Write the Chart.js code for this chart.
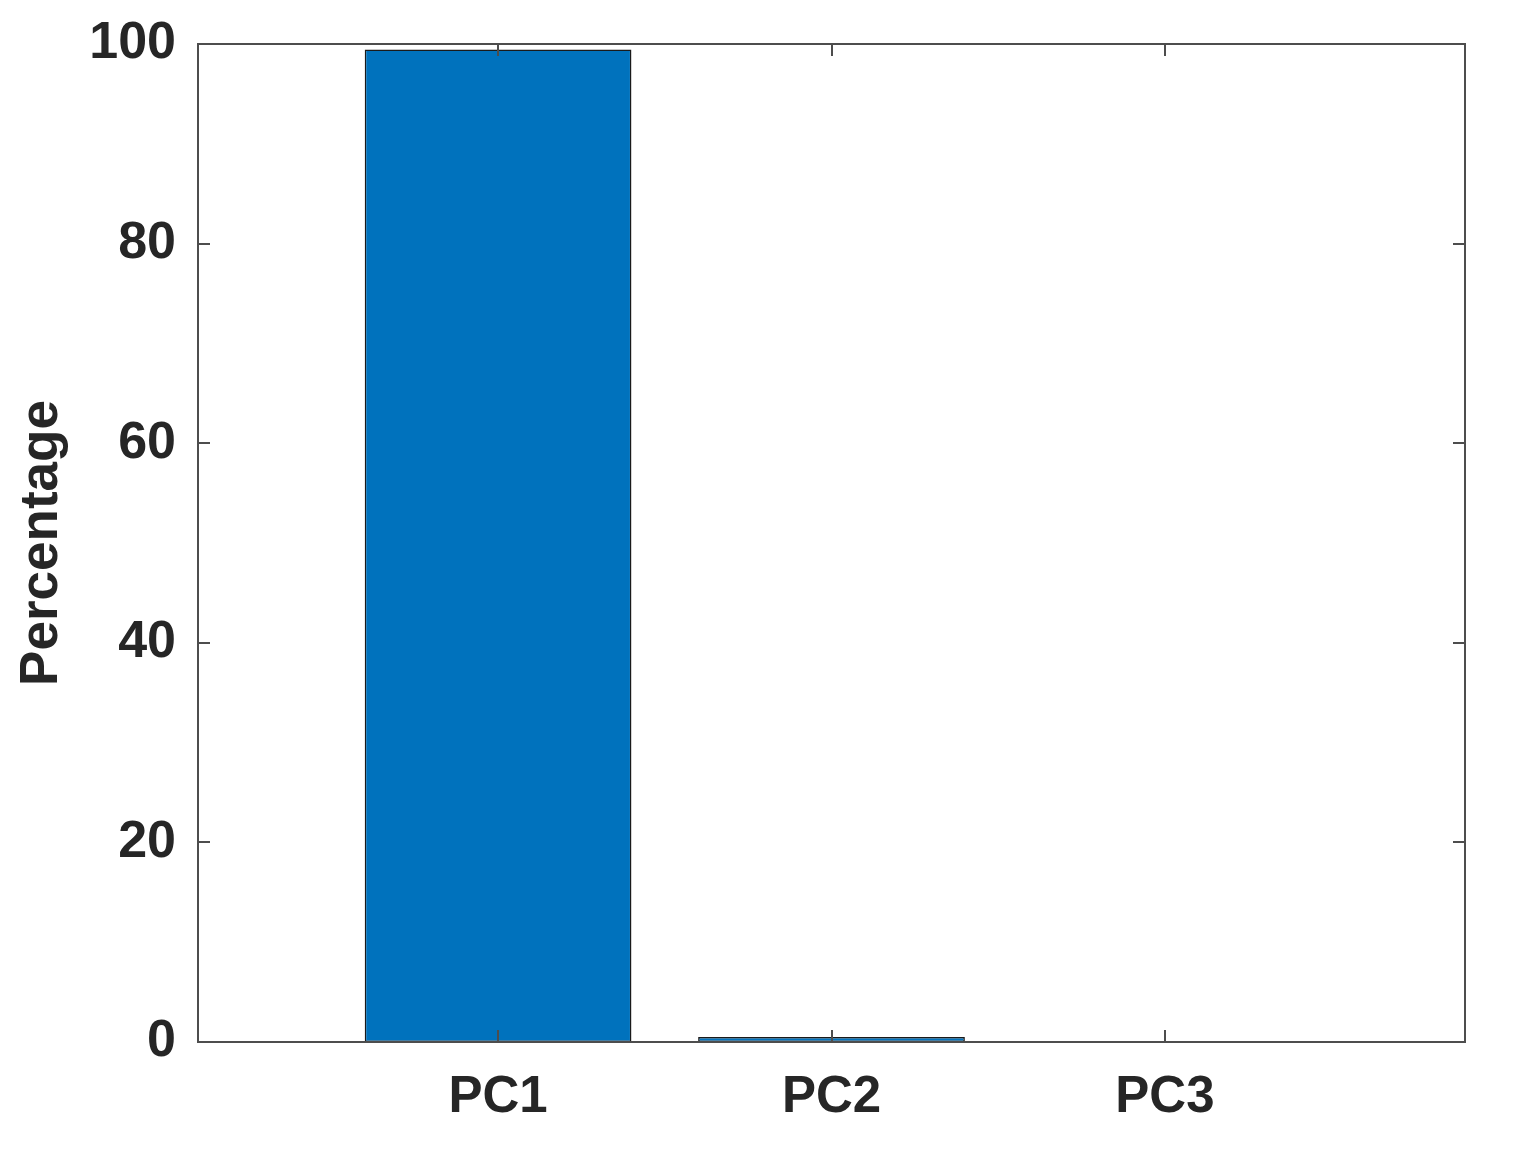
<!DOCTYPE html>
<html>
<head>
<meta charset="utf-8">
<title>Percentage by component</title>
<script src="https://cdn.jsdelivr.net/npm/chart.js@4.4.1/dist/chart.umd.min.js"></script>
<style>
  html, body { margin: 0; padding: 0; background: #ffffff; }
  #chart { display: block; }
</style>
</head>
<body>
<canvas id="chart" width="1519" height="1161"></canvas>
<script>
// data
const categories = ["PC1", "PC2", "PC3"];
const positions = [1, 2, 3];
const percentages = [99.45, 0.5, 0.05];
const yTicks = [0, 20, 40, 60, 80, 100];

const textColor = "#262626";
const axisColor = "#4d4d4d";
const fontFamily = "'Liberation Sans', Arial, Helvetica, sans-serif";

// MATLAB-like box with inward ticks on all four sides
const boxTicks = {
  id: "boxTicks",
  afterDatasetsDraw(chart) {
    const { ctx, chartArea: a, scales } = chart;
    const len = 12;
    ctx.save();
    ctx.strokeStyle = axisColor;
    ctx.lineWidth = 2;
    ctx.beginPath();
    yTicks.forEach(v => {
      const y = Math.round(scales.y.getPixelForValue(v));
      ctx.moveTo(a.left, y); ctx.lineTo(a.left + len, y);
      ctx.moveTo(a.right, y); ctx.lineTo(a.right - len, y);
    });
    positions.forEach(p => {
      const x = Math.round(scales.x.getPixelForValue(p));
      ctx.moveTo(x, a.bottom); ctx.lineTo(x, a.bottom - len);
      ctx.moveTo(x, a.top); ctx.lineTo(x, a.top + len);
    });
    ctx.stroke();
    ctx.strokeRect(a.left, a.top, a.right - a.left, a.bottom - a.top);
    ctx.restore();
  }
};

const points = positions.map((p, i) => ({ x: p, y: percentages[i] }));

new Chart(document.getElementById("chart"), {
  type: "bar",
  data: {
    datasets: [{
      data: points,
      backgroundColor: "#0072BD",
      borderColor: "#1a1a1a",
      borderWidth: 1.5,
      borderSkipped: false,
      barPercentage: 0.8,
      categoryPercentage: 1
    }]
  },
  options: {
    responsive: false,
    animation: false,
    layout: { padding: { left: 0, top: 44, right: 54, bottom: 0 } },
    plugins: {
      legend: { display: false },
      tooltip: { enabled: false }
    },
    scales: {
      x: {
        type: "linear",
        min: 0.1,
        max: 3.9,
        offset: false,
        grid: { display: false, drawTicks: false, offset: false },
        border: { display: false },
        afterBuildTicks(scale) {
          scale.ticks = positions.map(v => ({ value: v }));
        },
        afterFit(scale) {
          scale.height = 1161 - 1042;
          scale.paddingLeft = 0;
          scale.paddingRight = 0;
        },
        ticks: {
          padding: 25,
          color: textColor,
          font: { family: fontFamily, size: 51, weight: "bold" },
          callback(value) {
            const i = positions.indexOf(value);
            return i >= 0 ? categories[i] : "";
          }
        }
      },
      y: {
        min: 0,
        max: 100,
        grid: { display: false, drawTicks: false },
        border: { display: false },
        afterBuildTicks(scale) {
          scale.ticks = yTicks.map(v => ({ value: v }));
        },
        afterFit(scale) {
          scale.width = 198;
          scale.paddingTop = 0;
          scale.paddingBottom = 0;
        },
        ticks: {
          padding: 22,
          color: textColor,
          font: { family: fontFamily, size: 52, weight: "bold" }
        },
        title: {
          display: true,
          text: "Percentage",
          color: textColor,
          padding: { top: 11, bottom: 0 },
          font: { family: fontFamily, size: 53, weight: "bold" }
        }
      }
    }
  },
  plugins: [boxTicks]
});
</script>
</body>
</html>
